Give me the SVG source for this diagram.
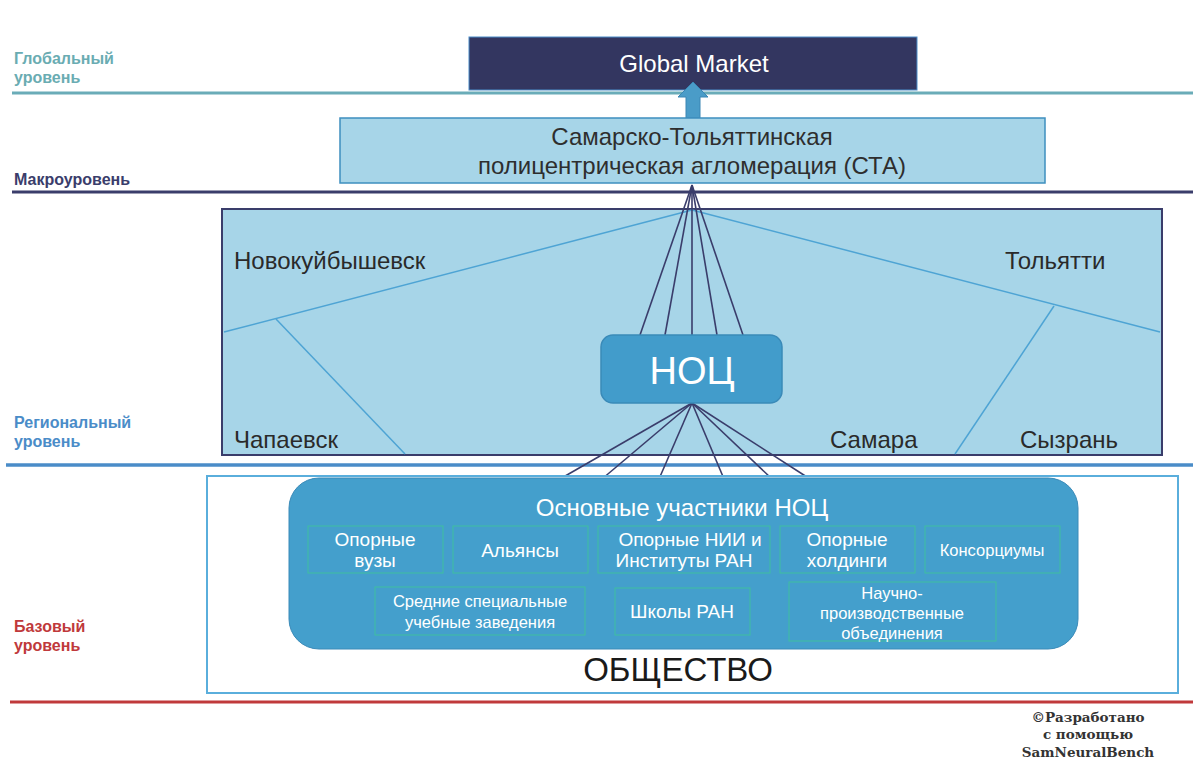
<svg xmlns="http://www.w3.org/2000/svg" width="1193" height="762" viewBox="0 0 1193 762">
<style>
.lvl{font-family:"Liberation Sans",Arial,sans-serif;font-weight:bold;font-size:16px}
.t{font-family:"Liberation Sans",Arial,sans-serif}
.city{font-family:"Liberation Sans",Arial,sans-serif;font-size:24px;fill:#2a2a2a}
.sub{fill:none;stroke:#3fbf9f;stroke-width:1}
.st{font-family:"Liberation Sans",Arial,sans-serif;font-size:19px;fill:#fff;text-anchor:middle}
.st2{font-family:"Liberation Sans",Arial,sans-serif;font-size:16.5px;fill:#fff;text-anchor:middle}
.fan{stroke:#3a3d6b;stroke-width:1.6;fill:none}
.div{stroke:#4ea4d4;stroke-width:1.5;fill:none}
</style>
<rect width="1193" height="762" fill="#fff"/>
<g id="levels">
<line x1="12" y1="93" x2="1193" y2="93" stroke="#6aacb8" stroke-width="3"/>
<text class="lvl" x="14" y="64" fill="#6aacb2">Глобальный</text>
<text class="lvl" x="14" y="83" fill="#6aacb2">уровень</text>
<line x1="12" y1="192" x2="1193" y2="192" stroke="#3a3d6b" stroke-width="3"/>
<text class="lvl" x="14" y="185" fill="#3a3d6b">Макроуровень</text>
<line x1="6" y1="465" x2="1193" y2="465" stroke="#4a8cc8" stroke-width="3.5"/>
<text class="lvl" x="14" y="428" fill="#4a8cc8">Региональный</text>
<text class="lvl" x="14" y="447" fill="#4a8cc8">уровень</text>
<line x1="10" y1="702" x2="1193" y2="702" stroke="#c0393b" stroke-width="3"/>
<text class="lvl" x="14" y="632" fill="#c0393b">Базовый</text>
<text class="lvl" x="14" y="651" fill="#c0393b">уровень</text>
</g>
<g id="global-market">
<rect x="469" y="37" width="448" height="53" fill="#333660" stroke="#4a8cc8" stroke-width="1"/>
<text class="t" x="694" y="72" font-size="24" fill="#fff" text-anchor="middle">Global Market</text>
</g>
<g id="region">
<rect x="222" y="209" width="940" height="246" fill="#a7d5e8" stroke="#3a3d6b" stroke-width="2"/>
<line class="div" x1="692" y1="210" x2="224" y2="332"/>
<line class="div" x1="276" y1="319" x2="405" y2="454"/>
<line class="div" x1="692" y1="210" x2="1160" y2="332"/>
<line class="div" x1="1054" y1="306" x2="955" y2="454"/>
<text class="city" x="234" y="269">Новокуйбышевск</text>
<text class="city" x="1005" y="269">Тольятти</text>
<text class="city" x="234" y="448">Чапаевск</text>
<text class="city" x="830" y="448">Самара</text>
<text class="city" x="1020" y="448">Сызрань</text>
</g>
<g id="connectors">
<line class="fan" x1="692" y1="185" x2="640" y2="335"/>
<line class="fan" x1="692" y1="185" x2="665" y2="335"/>
<line class="fan" x1="692" y1="185" x2="692" y2="335"/>
<line class="fan" x1="692" y1="185" x2="717" y2="335"/>
<line class="fan" x1="692" y1="185" x2="743" y2="335"/>
<line class="fan" x1="692" y1="403" x2="560" y2="479"/>
<line class="fan" x1="692" y1="403" x2="602" y2="479"/>
<line class="fan" x1="692" y1="403" x2="659" y2="479"/>
<line class="fan" x1="692" y1="403" x2="724" y2="479"/>
<line class="fan" x1="692" y1="403" x2="772" y2="479"/>
<line class="fan" x1="692" y1="403" x2="810" y2="479"/>
<polygon points="686,118 686,97 678,97 693,82 708,97 700,97 700,118" fill="#4a9cc8" stroke="#3a86b4" stroke-width="1"/>
</g>
<g id="sta">
<rect x="340" y="118" width="705" height="65" fill="#a7d5e8" stroke="#3e8fbf" stroke-width="1.5"/>
<text class="t" x="692" y="145" font-size="24" fill="#2e2e2e" text-anchor="middle">Самарско-Тольяттинская</text>
<text class="t" x="692" y="174" font-size="24" fill="#2e2e2e" text-anchor="middle">полицентрическая агломерация (СТА)</text>
</g>
<g id="noc">
<rect x="601" y="335" width="181" height="68" rx="12" fill="#429ccb" stroke="#3a8ab8" stroke-width="1.5"/>
<text class="t" x="692" y="384" font-size="38" fill="#fff" text-anchor="middle">НОЦ</text>
</g>
<g id="society">
<rect x="207" y="476" width="971" height="217" fill="#fff" stroke="#5aaedc" stroke-width="2"/>
<text class="t" x="678" y="681" font-size="33" fill="#1a1a1a" text-anchor="middle">ОБЩЕСТВО</text>
</g>
<g id="participants">
<rect x="289" y="478" width="789" height="171" rx="30" fill="#449fcc" stroke="#3a8ab8" stroke-width="1"/>
<text class="t" x="682" y="516" font-size="24" fill="#fff" text-anchor="middle">Основные участники НОЦ</text>
</g>
<g id="p-vuzy"><rect class="sub" x="308" y="526" width="135" height="47"/><text class="st" x="375" y="546">Опорные</text><text class="st" x="375" y="567">вузы</text></g>
<g id="p-alliances"><rect class="sub" x="453" y="526" width="135" height="47"/><text class="st" x="520" y="557">Альянсы</text></g>
<g id="p-nii"><rect class="sub" x="598" y="526" width="172" height="47"/><text class="st" x="690" y="546">Опорные НИИ и</text><text class="st" x="684" y="567">Институты РАН</text></g>
<g id="p-holdings"><rect class="sub" x="780" y="526" width="135" height="47"/><text class="st" x="847" y="546">Опорные</text><text class="st" x="847" y="567">холдинги</text></g>
<g id="p-consortia"><rect class="sub" x="925" y="526" width="135" height="47"/><text class="st2" x="992" y="556">Консорциумы</text></g>
<g id="p-colleges"><rect class="sub" x="375" y="587" width="210" height="48"/><text class="st2" x="480" y="607">Средние специальные</text><text class="st2" x="480" y="628">учебные заведения</text></g>
<g id="p-schools"><rect class="sub" x="615" y="588" width="135" height="47"/><text class="st" x="682" y="618">Школы РАН</text></g>
<g id="p-npo"><rect class="sub" x="789" y="582" width="207" height="59"/><text class="st2" x="892" y="599">Научно-</text><text class="st2" x="892" y="619">производственные</text><text class="st2" x="892" y="639">объединения</text></g>
<g id="copyright" font-family="DejaVu Serif,serif" font-weight="bold" font-size="13.5" fill="#333" text-anchor="middle">
<text x="1088" y="722">©Разработано</text>
<text x="1088" y="739">с помощью</text>
<text x="1088" y="757">SamNeuralBench</text>
</g>
</svg>
